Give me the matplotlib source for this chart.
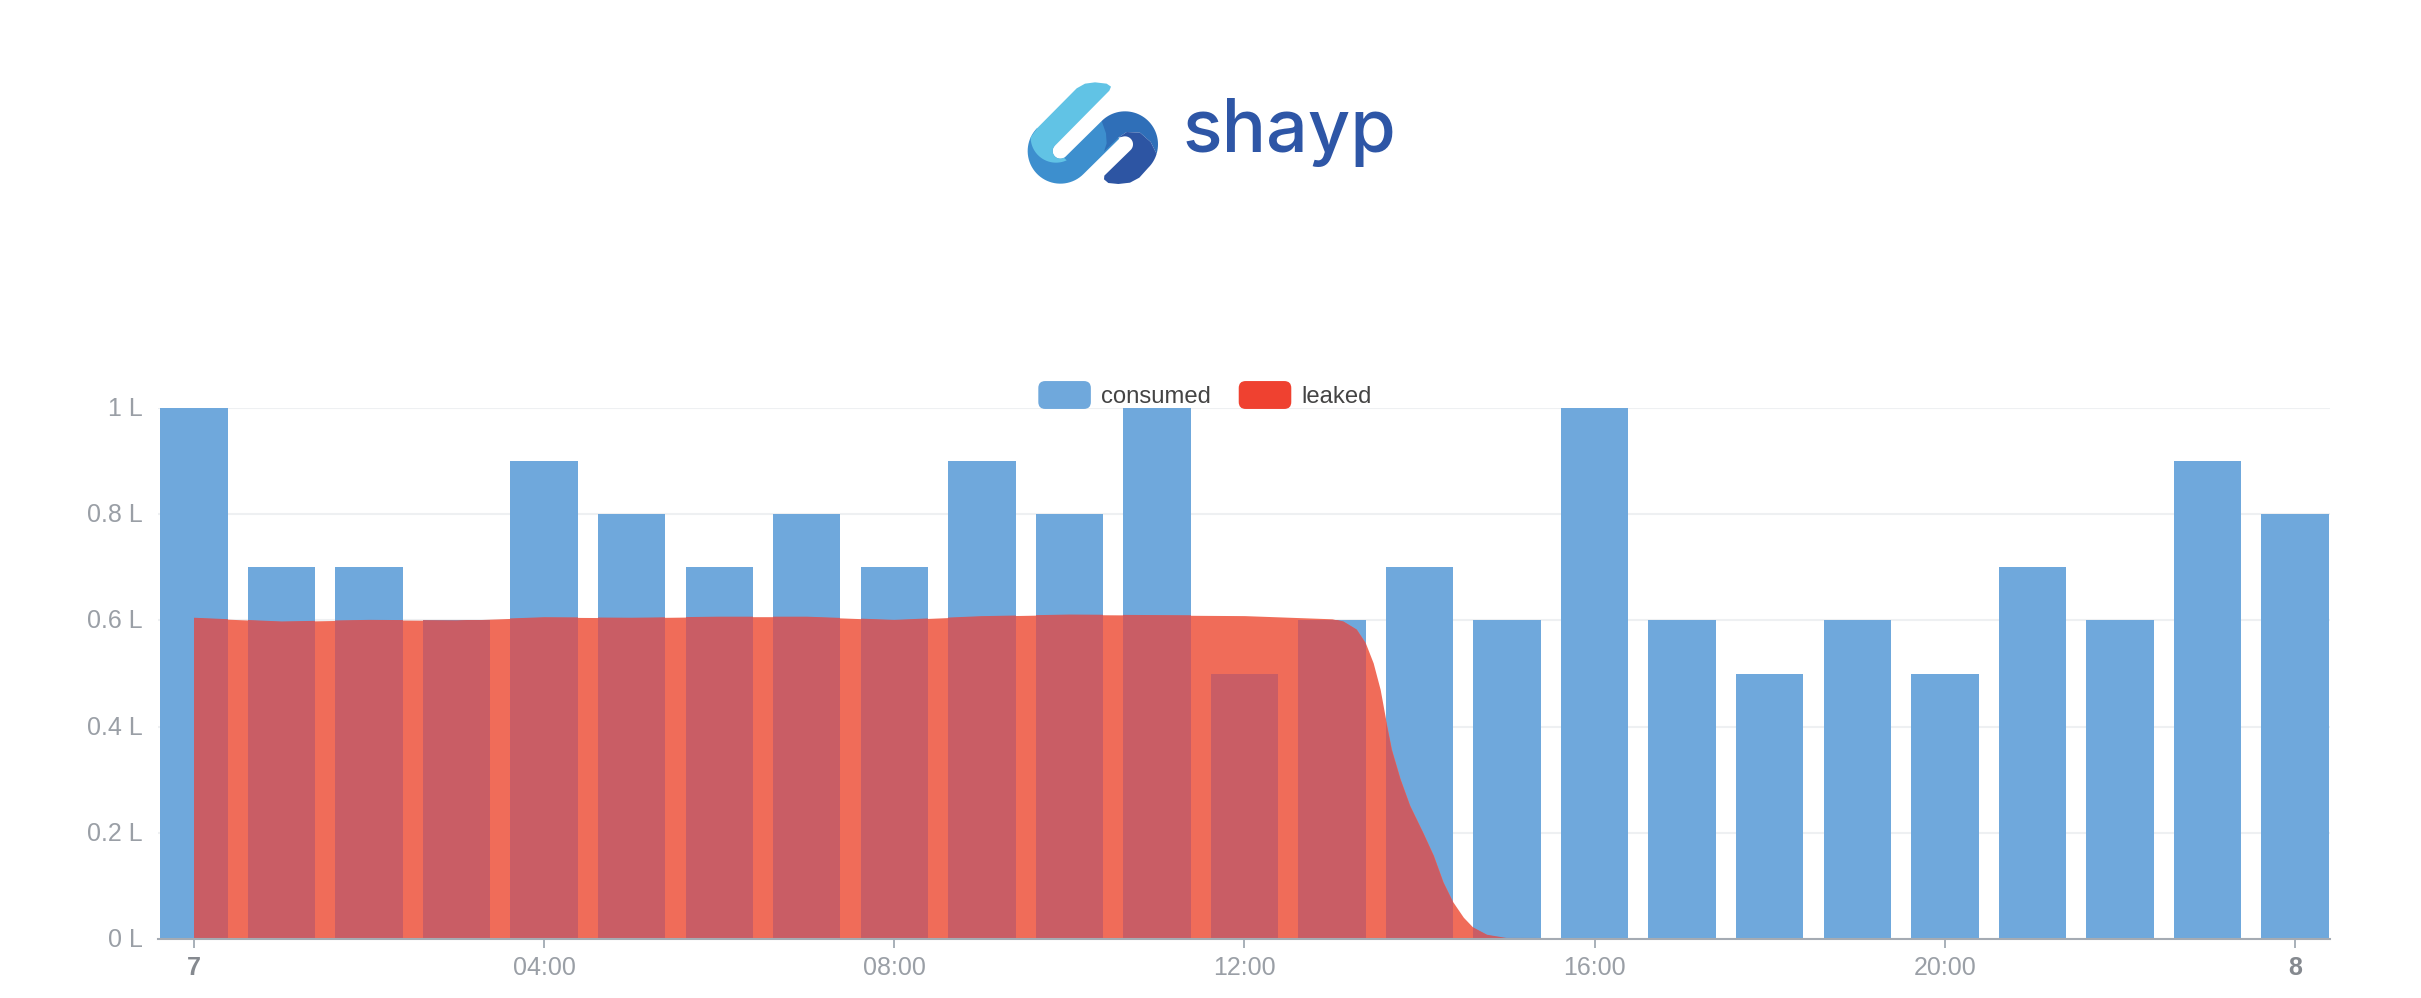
import matplotlib
matplotlib.use("Agg")
import matplotlib.pyplot as plt
import numpy as np
from matplotlib.legend_handler import HandlerPatch
from matplotlib.patches import FancyBboxPatch, Patch, Polygon
from matplotlib.transforms import ScaledTranslation

plt.rcParams["font.family"] = ["Liberation Sans", "DejaVu Sans"]

# values
hours = list(range(25))
consumed = [1, 0.7, 0.7, 0.6, 0.9, 0.8, 0.7, 0.8, 0.7, 0.9, 0.8, 1, 0.5,
            0.6, 0.7, 0.6, 1, 0.6, 0.5, 0.6, 0.5, 0.7, 0.6, 0.9, 0.8]
leak_hours = [0, 1, 2, 3, 4, 5, 6, 7, 8, 9, 10, 11, 12, 13, 13.13, 13.28, 13.38,
              13.47, 13.55, 13.62, 13.68, 13.78, 13.89, 14.04, 14.16, 14.27,
              14.38, 14.5, 14.61, 14.77, 14.99, 24]
leaked = [0.605, 0.598, 0.601, 0.6, 0.606, 0.605, 0.607, 0.607, 0.601, 0.608,
          0.611, 0.61, 0.609, 0.603, 0.598, 0.583, 0.558, 0.52, 0.47, 0.407,
          0.357, 0.301, 0.251, 0.2, 0.157, 0.107, 0.07, 0.041, 0.022, 0.008,
          0.002, 0]
y_ticks = [0, 0.2, 0.4, 0.6, 0.8, 1]
y_labels = ["0 L", "0.2 L", "0.4 L", "0.6 L", "0.8 L", "1 L"]
x_ticks = [0, 4, 8, 12, 16, 20, 24]
x_labels = ["7", "04:00", "08:00", "12:00", "16:00", "20:00", "8"]

W, H = 2421, 998
BLUE = "#6FA8DC"
SALMON = "#F06C59"
OVERLAP = "#C95D65"
GRAY = "#9A9FA6"


def px_axes(fig, x, y, w, h, **kw):
    # axes placed with pixel numbers measured from the top left
    return fig.add_axes([x / W, 1 - (y + h) / H, w / W, h / H], **kw)


class RoundHandler(HandlerPatch):
    def create_artists(self, legend, orig, xd, yd, width, height, fontsize, trans):
        box = FancyBboxPatch((-xd + 5, -yd + 5), width - 10, height - 10,
                             boxstyle="round,pad=5,rounding_size=5",
                             facecolor=orig.get_facecolor(), edgecolor="none",
                             transform=trans)
        return [box]


def arc(cx, cy, r, a0, a1):
    t = np.radians(np.linspace(a0, a1, 40))
    return np.column_stack([cx + r * np.cos(t), cy + r * np.sin(t)])


def draw_logo(fig):
    ax = px_axes(fig, 980, 50, 450, 160)
    ax.set_xlim(0, 1350)
    ax.set_ylim(480, 0)
    ax.axis("off")

    def shape(color, *parts):
        pts = np.vstack([np.atleast_2d(p) for p in parts])
        ax.add_patch(Polygon(pts, closed=True, facecolor=color, edgecolor="none"))

    seam = [(415, 263), (440, 246), (480, 248), (512, 276), (530, 312)]
    # middle band
    shape("#3D8FCE", arc(241, 303, 98, 225, 45), [(418, 266), (365, 213)],
          arc(241, 303, 23, 45, 225))
    # upper right arc
    shape("#2F6FB8", arc(435, 283, 99, 225, 375), seam[::-1],
          [(372, 305), (380, 280), (378, 250)])
    # dark end
    shape("#2D55A3", seam, arc(435, 283, 99, 15, 45),
          [(478, 383), (450, 398), (415, 402), (385, 399), (372, 388), (373, 377)],
          arc(435, 283, 24, 45, -100))
    # light band
    shape("#61C3E5", [(388, 122), (225, 287)], arc(241, 303, 23, 225, 62),
          arc(228, 262, 76, 65, 180), [(172, 234), (290, 115), (315, 101), (345, 97),
                                       (380, 101), (393, 110)])
    ax.text(608, 307, "shayp", fontsize=53, fontweight="medium", family="Inter",
            color="#2E56A6", ha="left", va="baseline")


fig = plt.figure(figsize=(W / 100, H / 100), dpi=100)
draw_logo(fig)

ax = px_axes(fig, 158, 408, 2172, 531)
ax.bar(hours, consumed, width=0.77, color=BLUE, zorder=2)
area = ax.fill_between(leak_hours, leaked, 0, color=SALMON, linewidth=0, zorder=3)
# same bars again, only where the leak covers them
overlap = ax.bar(hours, consumed, width=0.77, color=OVERLAP, zorder=3.5)
for bar in overlap:
    bar.set_clip_path(area.get_paths()[0], transform=ax.transData)

ax.set_xlim((158 - 194) / 87.54, (2330 - 194) / 87.54)
ax.set_ylim(0, 1)
ax.set_yticks(y_ticks, y_labels)
ax.set_xticks(x_ticks, x_labels)
ax.grid(axis="y", color="#EEF0F2", linewidth=1.5, zorder=0)
ax.set_axisbelow(True)
for name in ["top", "left", "right"]:
    ax.spines[name].set_visible(False)
ax.spines["bottom"].set_color("#A5ABB3")
ax.spines["bottom"].set_linewidth(1.5)
ax.spines["bottom"].set_zorder(4)
ax.tick_params(axis="y", length=0, pad=11, labelsize=18, labelcolor=GRAY)
ax.tick_params(axis="x", length=6.5, width=1.2, color="#9AA3AD", pad=5.7, labelsize=18,
               labelcolor=GRAY)
for label in ax.get_yticklabels():
    label.set_transform(label.get_transform() + ScaledTranslation(0, 1.5 / 100, fig.dpi_scale_trans))
for label in ax.get_xticklabels():
    if label.get_text() in ("7", "8"):
        label.set_fontweight("bold")
        label.set_color("#85898F")

handles = [Patch(facecolor=BLUE, label="consumed"), Patch(facecolor="#EF4130", label="leaked")]
leg = ax.legend(handles=handles, ncol=2, frameon=False, fontsize=17.2, labelcolor="#444444",
                handler_map={Patch: RoundHandler()}, handlelength=2.2, handleheight=1.42,
                handletextpad=0.42, columnspacing=1.17, borderpad=0, borderaxespad=0,
                loc="center", bbox_to_anchor=((1205 - 158) / 2172, 1 + 13 / 531))
leg.set_zorder(6)

fig.savefig("out.png", dpi=100)
